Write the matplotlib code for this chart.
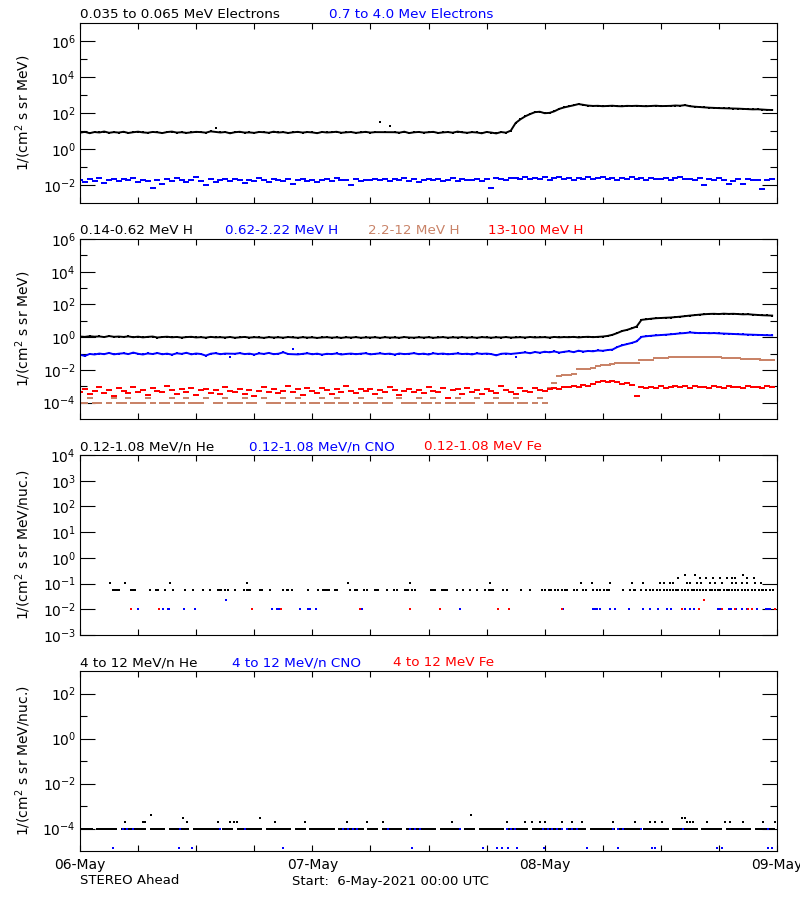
import numpy as np
import matplotlib
matplotlib.use('Agg')
import matplotlib.pyplot as plt
from matplotlib.path import Path
from matplotlib.ticker import FixedLocator, FuncFormatter, NullFormatter

# 30-minute samples, 06-May-2021 00:00 to 08-May 23:30 UTC (hours since start)
hours = np.arange(144) * 0.5

# ---- panel 1: electrons, 1/(cm2 s sr MeV) ----
e_lo = [8.1, 9.0, 7.6, 8.8, 8.3, 9.4, 8.0, 8.7, 8.2, 9.1,
        7.8, 8.6, 9.2, 8.4, 8.0, 8.9, 8.5, 7.7, 8.8, 9.3,
        8.2, 8.6, 7.9, 8.4, 9.0, 8.7, 8.1, 9.6, 14.0, 8.3,
        8.8, 7.5, 8.6, 9.1, 8.2, 8.4, 7.9, 8.9, 8.6, 8.0,
        9.2, 8.3, 8.7, 7.8, 8.5, 9.0, 8.2, 8.8, 8.4, 7.6,
        8.9, 8.3, 8.6, 9.1, 8.0, 8.5, 8.8, 7.9, 8.4, 9.0,
        8.2, 8.7, 32.0, 8.3, 19.0, 8.6, 8.1, 9.2, 7.7, 8.5,
        8.9, 8.2, 8.6, 9.0, 7.8, 8.4, 8.8, 8.1, 9.3, 8.5,
        8.0, 8.7, 8.3, 7.5, 8.9, 8.2, 7.4, 8.8, 8.1, 10.5,
        28, 45, 66, 88, 112, 118, 98, 102, 125, 170,
        205, 235, 270, 315, 285, 258, 248, 252, 240, 246,
        255, 242, 238, 250, 247, 252, 244, 240, 248, 255,
        243, 246, 250, 262, 255, 275, 240, 225, 215, 205,
        198, 192, 188, 185, 182, 178, 175, 170, 165, 160,
        162, 155, 150, 147]
e_hi_milli = [20, 15, 22, 17, 24, 13, 19, 21, 16, 23,
              18, 26, 14, 20, 17, 7, 19, 12, 21, 16,
              24, 18, 15, 20, 27, 17, 10, 22, 14, 18,
              21, 16, 23, 19, 13, 20, 17, 25, 18, 15,
              22, 19, 16, 21, 11, 18, 23, 17, 20, 14,
              19, 22, 16, 24, 18, 20, 10, 21, 17, 19,
              20, 23, 18, 21, 16, 22, 19, 25, 17, 21,
              14, 20, 23, 18, 22, 17, 19, 24, 17, 21,
              20, 18, 23, 16, 22, 7, 25, 21, 18, 24,
              26, 22, 28, 21, 25, 23, 27, 20, 24, 29,
              22, 26, 18, 25, 23, 28, 21, 24, 27, 22,
              25, 20, 26, 23, 29, 21, 24, 19, 26, 23,
              22, 25, 20, 24, 27, 21, 23, 18, 25, 10,
              21, 20, 24, 19, 11, 17, 23, 12, 21, 18,
              20, 6, 20, 22]

# ---- panel 2: protons ----
p1 = [1.10, 1.05, 1.15, 1.08, 1.12, 1.02, 1.18, 1.06, 1.10, 1.04,
      1.12, 1.00, 1.08, 0.98, 1.05, 1.10, 0.96, 1.03, 1.07, 0.99,
      1.04, 0.95, 1.02, 1.06, 0.97, 1.01, 0.94, 1.05, 0.98, 1.00,
      0.96, 1.03, 0.93, 0.99, 1.04, 0.95, 1.00, 0.97, 0.92, 1.01,
      0.96, 0.99, 0.94, 1.02, 0.97, 0.93, 1.00, 0.95, 0.98, 0.91,
      0.97, 1.00, 0.94, 0.98, 0.92, 0.99, 0.95, 1.01, 0.93, 0.97,
      0.96, 0.99, 0.92, 1.00, 0.95, 0.97, 0.93, 1.02, 0.96, 0.94,
      0.99, 0.95, 1.00, 0.93, 0.97, 1.01, 0.94, 0.98, 0.96, 1.00,
      0.95, 0.98, 0.93, 1.01, 0.97, 0.94, 0.99, 0.96, 1.02, 0.95,
      0.98, 1.00, 0.96, 1.03, 0.97, 0.99, 1.01, 0.95, 1.04, 0.98,
      1.02, 1.00, 1.05, 0.97, 1.03, 1.06, 1.01, 1.05, 1.10, 1.20,
      1.40, 1.80, 2.40, 2.80, 3.50, 4.50, 11.5, 12.5, 13.5, 14.5,
      15.0, 15.5, 16.0, 17.0, 18.0, 19.5, 21.0, 22.5, 24.0, 25.5,
      26.5, 27.0, 26.0, 27.5, 26.5, 27.0, 26.0, 25.0, 25.5, 24.0,
      23.0, 22.0, 21.5, 21.0]
p2 = [0.085, 0.072, 0.095, 0.088, 0.100, 0.092, 0.110, 0.090, 0.098, 0.105,
      0.093, 0.115, 0.097, 0.088, 0.102, 0.094, 0.108, 0.091, 0.099, 0.086,
      0.104, 0.096, 0.112, 0.090, 0.101, 0.094, 0.075, 0.098, 0.106, 0.092,
      0.100, 0.058, 0.097, 0.107, 0.093, 0.099, 0.087, 0.103, 0.095, 0.110,
      0.092, 0.098, 0.120, 0.094, 0.180, 0.089, 0.096, 0.104, 0.091, 0.099,
      0.086, 0.097, 0.093, 0.102, 0.088, 0.095, 0.100, 0.092, 0.098, 0.105,
      0.090, 0.096, 0.103, 0.094, 0.099, 0.087, 0.101, 0.093, 0.097, 0.106,
      0.092, 0.099, 0.088, 0.104, 0.095, 0.100, 0.091, 0.097, 0.102, 0.094,
      0.098, 0.089, 0.103, 0.096, 0.100, 0.093, 0.078, 0.097, 0.101, 0.095,
      0.060, 0.110, 0.118, 0.105, 0.125, 0.112, 0.130, 0.120, 0.135, 0.115,
      0.128, 0.140, 0.122, 0.150, 0.132, 0.145, 0.138, 0.155, 0.148, 0.165,
      0.175, 0.250, 0.320, 0.380, 0.450, 0.560, 1.05, 1.15, 1.22, 1.30,
      1.35, 1.42, 1.50, 1.60, 1.72, 1.80, 1.95, 1.85, 1.78, 1.82,
      1.75, 1.80, 1.72, 1.68, 1.62, 1.58, 1.52, 1.48, 1.45, 1.40,
      1.38, 1.35, 1.32, 1.30]
# in units of 1e-4
p3_e4 = [0.9, 0.9, 1.9, 0.9, 0.9, None, 0.9, 1.9, 0.9, 0.9,
         1.9, 0.9, 0.9, 0.9, 1.9, 0.9, None, 0.9, 0.9, 1.9,
         0.9, 0.9, 1.9, 0.9, 0.9, 0.9, 1.9, None, 0.9, 0.9,
         1.9, 0.9, 0.9, 0.9, 1.9, 0.9, 0.9, None, 1.9, 0.9,
         0.9, 0.9, 1.9, 0.9, 0.9, 1.9, 0.9, None, 0.9, 0.9,
         1.9, 0.9, 0.9, 1.9, 0.9, 0.9, None, 0.9, 1.9, 0.9,
         0.9, 0.9, 1.9, 0.9, 0.9, None, 1.9, 0.9, 0.9, 0.9,
         1.9, 0.9, 0.9, 1.9, 0.9, None, 0.9, 0.9, 1.9, 0.9,
         0.9, 0.9, 1.9, None, 0.9, 0.9, 1.9, 0.9, 0.9, 0.9,
         1.9, 0.9, 0.9, None, 0.9, 1.9, 0.9, 8, 17, 45,
         50, 52, 58, 110, 115, 120, 130, 180, 200, 210,
         230, 250, 260, 250, 270, 260, 400, 420, 430, 520,
         550, 570, 580, 600, 620, 640, 650, 660, 650, 630,
         620, 600, 580, 560, 540, 530, 510, 500, 480, 460,
         450, 430, 420, 410]
p4_e4 = [4.5, 6.8, 3.2, 5.5, 8.9, 4.1, 6.2, 2.6, 7.4, 5.0,
         3.8, 9.5, 4.7, 6.0, 3.0, 7.8, 5.3, 4.2, 10.5, 5.8,
         3.5, 6.5, 4.4, 8.2, 2.8, 5.6, 7.0, 4.0, 6.3, 3.3,
         9.0, 5.1, 4.6, 7.2, 3.6, 6.1, 2.4, 5.4, 8.5, 4.3,
         6.7, 3.9, 5.2, 11.0, 4.8, 6.4, 3.1, 7.6, 5.0, 4.1,
         8.0, 5.7, 3.4, 6.9, 4.5, 9.8, 5.5, 3.7, 6.6, 4.9,
         7.3, 3.2, 5.9, 4.2, 8.7, 6.0, 2.9, 5.3, 7.1, 4.6,
         6.2, 3.8, 9.3, 5.0, 4.4, 7.5, 1.8, 5.6, 6.4, 3.5,
         8.1, 4.7, 5.9, 3.3, 7.0, 5.2, 4.0, 10.0, 6.1, 4.8,
         3.6, 7.7, 5.4, 4.3, 8.4, 6.3, 5.1, 6.5, 8.0, 7.2,
         9.5, 8.6, 11.0, 9.2, 12.5, 10.8, 14.0, 17.5, 20.5, 18.0,
         21.0, 19.0, 13.5, 15.0, 11.5, 2.4, 9.0, 7.8, 9.6, 8.4,
         10.2, 8.0, 9.3, 11.2, 8.7, 9.8, 7.5, 10.5, 8.9, 9.4,
         7.9, 11.0, 9.0, 8.3, 10.0, 8.6, 9.7, 7.7, 10.4, 8.8,
         9.5, 8.1, 9.9, 9.2]

# ---- panel 3: 0.12-1.08 MeV/n heavy ions (hours of each sample) ----
he_lo_level = [0.054, 0.107, 0.16, 0.22]
he_lo_t = [
    [3.4, 3.6, 3.8, 4.0, 5.3, 5.5, 5.7, 7.2, 7.8, 7.9, 8.1, 8.8, 9.6, 10.8, 11.7,
     12.7, 13.4, 14.3, 14.5, 14.6, 15.0, 15.3, 16.0, 16.9, 17.2, 17.4, 17.6, 18.6,
     18.8, 19.6, 21.0, 21.4, 21.5, 21.9, 23.6, 24.6, 25.1, 25.3, 25.5, 25.7, 26.3,
     26.5, 27.9, 28.4, 28.6, 29.3, 29.6, 30.5, 30.6, 30.8, 31.7, 32.4, 32.7, 33.6,
     33.7, 33.9, 34.3, 34.6, 36.3, 36.5, 36.7, 37.4, 37.5, 37.7, 37.9, 38.9, 39.6,
     40.3, 41.0, 41.8, 42.2, 42.5, 42.7, 43.7, 44.1, 45.6, 46.5, 47.7, 48.0, 48.4,
     48.7, 49.1, 49.4, 49.8, 50.1, 50.3, 51.0, 51.3, 52.0, 52.3, 53.0, 53.4, 53.7,
     54.1, 54.4, 54.6, 56.1, 56.8, 57.2, 57.3, 57.9, 58.5, 58.9, 59.2, 59.6, 59.9,
     60.3, 60.6, 60.9, 61.3, 61.6, 61.8, 62.2, 62.5, 62.8, 63.2, 63.4, 63.7, 64.0,
     64.4, 64.7, 65.1, 65.3, 65.6, 65.9, 66.1, 66.5, 66.8, 67.0, 67.3, 67.7, 68.0,
     68.4, 68.7, 69.0, 69.4, 69.7, 70.1, 70.4, 70.6, 70.9, 71.3, 71.6],
    [3.1, 4.65, 9.3, 17.2, 27.7, 34.1, 42.4, 51.8, 52.9, 54.8, 57.0, 58.2, 59.9,
     60.3, 60.9, 61.3, 62.7, 63.0, 63.7, 64.2, 65.1, 65.6, 66.3, 67.3, 67.8, 68.4,
     68.9, 69.7, 70.3],
    [61.8, 64.0, 64.7, 65.4, 66.1, 66.8, 67.3, 67.7, 68.9, 69.6],
    [62.5, 63.5, 68.5],
]
cno_lo_level = [0.0107, 0.023]
cno_lo_t = [
    [6.0, 8.6, 9.1, 9.2, 10.7, 11.9, 19.8, 20.3, 20.5, 20.7, 22.7, 23.6, 23.8, 24.4,
     29.1, 39.3, 49.9, 53.0, 53.2, 53.4, 53.7, 54.8, 55.3, 56.7, 58.2, 58.9, 59.7,
     60.6, 61.0, 62.5, 63.0, 63.4, 65.9, 66.1, 67.0, 67.2, 67.8, 68.4, 68.9, 69.9,
     70.9, 71.1, 71.3],
    [15.05],
]
fe_lo_level = [0.0107, 0.023]
fe_lo_t = [
    [5.3, 8.2, 17.8, 20.8, 28.9, 34.1, 37.2, 43.2, 44.3, 49.8, 62.2, 63.9, 66.3,
     67.7, 69.0, 69.4, 71.8],
    [64.5],
]

# ---- panel 4: 4-12 MeV/n heavy ions ----
# one-count level (1e-4) for He, per 30-minute sample; None = no count
he_hi_base = [1, 1, 1, None, 1, 1, 1, 1, None, 1,
              1, 1, 1, 1, None, 1, 1, 1, None, 1,
              1, 1, 1, None, 1, 1, 1, 1, 1, None,
              1, 1, None, 1, 1, 1, 1, 1, None, 1,
              1, 1, 1, 1, None, 1, 1, None, 1, 1,
              1, 1, 1, None, 1, 1, 1, 1, 1, None,
              1, 1, None, 1, 1, 1, 1, None, 1, 1,
              1, 1, 1, 1, None, 1, 1, 1, 1, None,
              1, 1, None, 1, 1, 1, 1, 1, None, 1,
              1, 1, 1, None, 1, 1, 1, 1, 1, 1,
              None, 1, 1, 1, 1, None, 1, 1, 1, 1,
              1, None, 1, 1, 1, 1, None, 1, 1, 1,
              1, 1, None, 1, 1, 1, 1, 1, None, 1,
              1, 1, 1, None, 1, 1, 1, 1, 1, None,
              1, 1, 1, 1]
he_hi_level = [2e-4, 3e-4, 4e-4]
he_hi_t = [
    [4.6, 6.5, 6.7, 11.1, 14.3, 15.5, 15.9, 16.2, 20.1, 23.2, 27.6, 29.6, 31.3,
     38.4, 44.1, 46.0, 46.7, 47.5, 48.0, 49.8, 50.8, 51.9, 55.1, 57.3, 58.9, 59.4,
     60.1, 62.7, 63.0, 63.3, 64.8, 66.6, 67.1, 68.5, 70.6, 71.8],
    [10.6, 18.6, 62.2, 62.5],
    [7.3, 40.4],
]
cno_hi_level = [1e-4, 1.3e-5]
cno_hi_t = [
    [4.4, 4.9, 5.5, 10.3, 14.5, 17.0, 27.2, 27.7, 28.2, 28.6, 31.8, 34.1, 34.6,
     35.1, 39.3, 44.1, 44.5, 44.9, 47.8, 48.3, 48.8, 49.3, 49.8, 50.3, 50.8, 51.3,
     55.1, 55.6, 56.1, 57.9, 62.3, 71.1],
    [0.0, 3.4, 10.2, 11.6, 21.0, 34.3, 41.6, 43.1, 43.6, 44.2, 45.1, 47.9, 52.4,
     55.6, 59.1, 59.4, 65.8, 66.3, 71.1, 71.5],
]

day_ticks = [0, 24, 48, 72]
day_labels = ['06-May', '07-May', '08-May', '09-May']

BLUE = '#0000ff'
RED = '#ff0000'
BROWN = '#c98368'

dash = Path([(-1, -0.42), (1, -0.42), (1, 0.42), (-1, 0.42), (-1, -0.42)],
            [Path.MOVETO, Path.LINETO, Path.LINETO, Path.LINETO, Path.CLOSEPOLY])
thin = Path([(-1, -0.22), (1, -0.22), (1, 0.22), (-1, 0.22), (-1, -0.22)],
            [Path.MOVETO, Path.LINETO, Path.LINETO, Path.LINETO, Path.CLOSEPOLY])


def scatter_trace(ax, values, color, scale=1.0):
    # noisy channels: separate dots
    v = np.array(values, dtype=float) * scale
    ax.plot(hours, v, ls='none', marker=dash, ms=3.9, mew=0, color=color)


def smooth_trace(ax, values, color):
    # well-populated channels: joined dots, isolated spikes left as lone dots
    v = np.array(values, dtype=float)
    lv = np.log10(v)
    d_prev = lv - np.r_[lv[0], lv[:-1]]
    d_next = lv - np.r_[lv[1:], lv[-1]]
    spike = (np.abs(d_prev) > 0.12) & (np.abs(d_next) > 0.12) & (d_prev * d_next > 0)
    ax.plot(hours[~spike], v[~spike], ls='-', lw=1.4, color=color)
    ax.plot(hours, v, ls='none', marker='s', ms=2.0, mew=0, color=color)


def sparse(ax, times, level, color):
    t = np.array(times, dtype=float)
    ax.plot(t, np.full(len(t), level), ls='none', marker='s', ms=1.7, mew=0,
            color=color)


def setup(ax, ylim, major, minor, ylabel, titles):
    ax.set_yscale('log')
    ax.set_xlim(0, 72)
    ax.set_ylim(*ylim)
    ax.yaxis.set_major_locator(FixedLocator(major))
    ax.yaxis.set_minor_locator(FixedLocator(minor))
    ax.yaxis.set_major_formatter(
        FuncFormatter(lambda v, p: r'$10^{%d}$' % round(np.log10(v))))
    ax.yaxis.set_minor_formatter(NullFormatter())
    ax.xaxis.set_major_locator(FixedLocator(day_ticks))
    ax.xaxis.set_minor_locator(FixedLocator([h for h in range(6, 72, 6) if h % 24]))
    ax.xaxis.set_major_formatter(NullFormatter())
    ax.tick_params(axis='y', which='major', direction='in', length=10.5, width=0.8,
                   right=True, labelsize=10, pad=3)
    ax.tick_params(axis='y', which='minor', direction='in', length=5, width=0.8,
                   right=True)
    ax.tick_params(axis='x', which='both', direction='in', length=4.3, width=0.8,
                   top=True)
    for s in ax.spines.values():
        s.set_linewidth(0.8)
    ax.set_ylabel(ylabel, fontsize=10)
    ax.yaxis.set_label_coords(-0.067, 0.5)
    for text, xpix, color in titles:
        ax.annotate(text, xy=((xpix - 80) / 697, 1), xycoords='axes fraction',
                    xytext=(0, 5), textcoords='offset pixels', ha='left',
                    va='baseline', fontsize=9.7, color=color, annotation_clip=False)


fig = plt.figure(figsize=(8, 9), dpi=100)
L, W, H = 0.1, 0.87125, 0.2
ax1 = fig.add_axes([L, 0.7744, W, H])
ax2 = fig.add_axes([L, 0.5344, W, H])
ax3 = fig.add_axes([L, 0.2944, W, H])
ax4 = fig.add_axes([L, 0.0544, W, H])

lab_mev = '1/(cm$^2$ s sr MeV)'
lab_nuc = '1/(cm$^2$ s sr MeV/nuc.)'

# panel 1
smooth_trace(ax1, e_lo, 'black')
scatter_trace(ax1, e_hi_milli, BLUE, 1e-3)
setup(ax1, (1e-3, 1e7), [1e-2, 1e0, 1e2, 1e4, 1e6], [1e-1, 1e1, 1e3, 1e5],
      lab_mev, [('0.035 to 0.065 MeV Electrons', 80, 'black'),
                ('0.7 to 4.0 Mev Electrons', 329, BLUE)])

# panel 2
scatter_trace(ax2, p3_e4, BROWN, 1e-4)
scatter_trace(ax2, p4_e4, RED, 1e-4)
smooth_trace(ax2, p1, 'black')
smooth_trace(ax2, p2, BLUE)
setup(ax2, (1e-5, 1e6), [1e-4, 1e-2, 1e0, 1e2, 1e4, 1e6],
      [1e-3, 1e-1, 1e1, 1e3, 1e5], lab_mev,
      [('0.14-0.62 MeV H', 80, 'black'), ('0.62-2.22 MeV H', 225, BLUE),
       ('2.2-12 MeV H', 368, BROWN), ('13-100 MeV H', 488, RED)])

# panel 3
for t, lv in zip(he_lo_t, he_lo_level):
    sparse(ax3, t, lv, 'black')
for t, lv in zip(cno_lo_t, cno_lo_level):
    sparse(ax3, t, lv, BLUE)
for t, lv in zip(fe_lo_t, fe_lo_level):
    sparse(ax3, t, lv, RED)
setup(ax3, (1e-3, 1e4), [1e-3, 1e-2, 1e-1, 1e0, 1e1, 1e2, 1e3, 1e4], [],
      lab_nuc, [('0.12-1.08 MeV/n He', 80, 'black'),
                ('0.12-1.08 MeV/n CNO', 249, BLUE),
                ('0.12-1.08 MeV Fe', 424, RED)])

# panel 4
ax4.plot(hours, np.array(he_hi_base, dtype=float) * 1e-4, ls='none', marker=thin,
         ms=3.9, mew=0, color='black')
for t, lv in zip(he_hi_t, he_hi_level):
    sparse(ax4, t, lv, 'black')
for t, lv in zip(cno_hi_t, cno_hi_level):
    sparse(ax4, t, lv, BLUE)
setup(ax4, (1e-5, 1e3), [1e-4, 1e-2, 1e0, 1e2], [1e-3, 1e-1, 1e1],
      lab_nuc, [('4 to 12 MeV/n He', 80, 'black'),
                ('4 to 12 MeV/n CNO', 232, BLUE),
                ('4 to 12 MeV Fe', 393, RED)])
ax4.set_xticks(day_ticks)
ax4.set_xticklabels(day_labels)
ax4.tick_params(axis='x', which='major', labelsize=10, pad=5)

fig.text(80 / 800, 1 - 881 / 900, 'STEREO Ahead', fontsize=9.5, va='center')
fig.text(292 / 800, 1 - 881 / 900, 'Start:  6-May-2021 00:00 UTC', fontsize=9.5,
         va='center')

fig.savefig('out.png', dpi=100)
